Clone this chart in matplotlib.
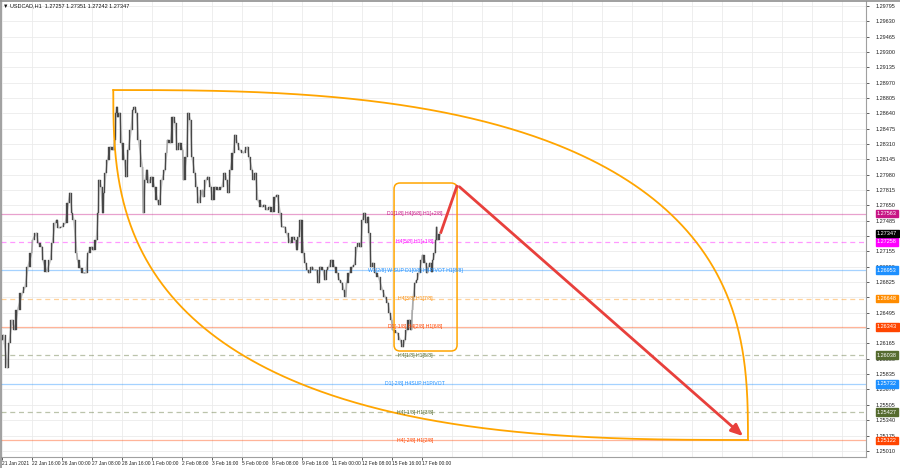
import numpy as np
import matplotlib
matplotlib.use("Agg")
import matplotlib.pyplot as plt
from matplotlib.patches import FancyBboxPatch
import matplotlib.transforms as mtransforms

FONT = ['Liberation Sans Narrow', 'Liberation Sans', 'DejaVu Sans']
plt.rcParams['font.family'] = FONT

# H1 closes (bar index, price)
path = [(0, 1.26202), (2, 1.26256), (6, 1.25901), (8, 1.26170), (11, 1.26418), (14, 1.26310),
        (17, 1.26525), (22, 1.26708), (25, 1.26773), (28, 1.26988), (32, 1.27138), (33, 1.27278),
        (37, 1.27353), (39, 1.27246), (43, 1.27203), (44, 1.27063), (48, 1.26934), (52, 1.27063),
        (54, 1.27246), (57, 1.27461), (59, 1.27493), (61, 1.27407), (64, 1.27418), (68, 1.27461),
        (71, 1.27676), (73, 1.27784), (75, 1.27568), (77, 1.27493), (80, 1.27138), (81, 1.27063),
        (84, 1.26977), (87, 1.26923), (90, 1.26923), (92, 1.27138), (96, 1.27203), (98, 1.27170),
        (101, 1.27278), (103, 1.27568), (104, 1.27923), (106, 1.27848), (108, 1.27568), (109, 1.27784),
        (111, 1.27999), (113, 1.28139), (116, 1.28278), (119, 1.28246), (121, 1.28354), (122, 1.28644),
        (123, 1.28709), (124, 1.28601), (126, 1.28644), (128, 1.28321), (131, 1.28139), (133, 1.27956),
        (135, 1.28246), (138, 1.28461), (140, 1.28676), (142, 1.28709), (144, 1.28644), (146, 1.28354),
        (150, 1.28063), (151, 1.27568), (153, 1.27923), (155, 1.28031), (157, 1.27891), (160, 1.27956),
        (163, 1.27848), (166, 1.27708), (168, 1.27655), (171, 1.27923), (174, 1.28031), (176, 1.28214),
        (177, 1.28354), (180, 1.28321), (183, 1.28601), (185, 1.28537), (187, 1.28246), (190, 1.28321),
        (193, 1.28246), (194, 1.27923), (197, 1.28171), (199, 1.28644), (201, 1.28569), (203, 1.28171),
        (206, 1.27999), (208, 1.27848), (210, 1.27676), (214, 1.27816), (215, 1.27741), (218, 1.27923),
        (220, 1.27956), (223, 1.27848), (225, 1.27708), (228, 1.27848), (231, 1.27816), (235, 1.27848),
        (238, 1.27999), (240, 1.27923), (242, 1.27784), (244, 1.28031), (247, 1.28214), (249, 1.28408),
        (251, 1.28321), (254, 1.28246), (258, 1.28214), (262, 1.28278), (264, 1.28171), (267, 1.28031),
        (269, 1.27923), (271, 1.27999), (273, 1.27708), (278, 1.27633), (280, 1.27655), (283, 1.27601),
        (286, 1.27633), (289, 1.27580), (292, 1.27741), (294, 1.27762), (297, 1.27568), (299, 1.27418),
        (302, 1.27418), (304, 1.27353), (308, 1.27246), (311, 1.27310), (313, 1.27278), (315, 1.27170),
        (317, 1.27310), (319, 1.27493), (322, 1.27138), (324, 1.27031), (326, 1.26956), (328, 1.26923),
        (331, 1.26988), (333, 1.26956), (336, 1.26956), (338, 1.26816), (340, 1.26988), (343, 1.26956),
        (345, 1.26848), (347, 1.26956), (349, 1.26988), (352, 1.27063), (355, 1.26988), (358, 1.26923),
        (360, 1.26848), (363, 1.26816), (365, 1.26741), (367, 1.26665), (368, 1.26816), (371, 1.26923),
        (374, 1.26988), (376, 1.27010), (379, 1.27203), (381, 1.27246), (383, 1.27203), (385, 1.27493),
        (387, 1.27568), (389, 1.27461), (391, 1.27525), (392, 1.27353), (394, 1.26988), (396, 1.27031),
        (399, 1.26923), (402, 1.26880), (406, 1.26741), (409, 1.26665), (412, 1.26601), (414, 1.26493),
        (416, 1.26418), (417, 1.26310), (422, 1.26278), (425, 1.26202), (428, 1.26128), (430, 1.26202),
        (432, 1.26310), (435, 1.26418), (437, 1.26310), (438, 1.26525), (439, 1.26665), (441, 1.26816),
        (443, 1.26848), (445, 1.26923), (448, 1.27063), (449, 1.27117), (452, 1.27031), (454, 1.26923),
        (455, 1.26988), (457, 1.27031), (459, 1.26934), (460, 1.27063), (462, 1.27138), (463, 1.27278),
        (464, 1.27418), (465, 1.27278), (468, 1.27347)]
bars = np.array([p[0] for p in path], dtype=float)
closes = np.array([p[1] for p in path])

title = "\u25bc USDCAD,H1  1.27257 1.27351 1.27242 1.27347"

# Murrey levels
levels = [1.27563, 1.27258, 1.26953, 1.26648, 1.26343, 1.26038, 1.25732, 1.25427, 1.25122]
level_text = ["D1[1/8] H4[6/8] H1[+2/8]", "H4[5/8] H1[+1/8]",
              "W1[2/8] W SUP D1[0/8] H4PIVOT H1[8/8]", "H4[3/8] H1[7/8]",
              "D1[-1/8] H4[2/8] H1[6/8]", "H4[1/8] H1[5/8]", "D1[-2/8] H4SUP H1PIVOT",
              "H4[-1/8] H1[3/8]", "H4[-2/8] H1[2/8]"]
level_color = ['#c71585', '#ff00ff', '#1e90ff', '#ff8c00', '#ff4500',
               '#556b2f', '#1e90ff', '#556b2f', '#ff4500']
level_dashed = [False, True, False, True, False, True, False, True, False]
last_price = 1.27347

price_ticks = [round(1.29795 - 0.00165 * k, 5) for k in range(30)]
date_labels = ["21 Jan 2021", "22 Jan 16:00", "26 Jan 00:00", "27 Jan 08:00", "28 Jan 16:00",
               "1 Feb 00:00", "2 Feb 08:00", "3 Feb 16:00", "5 Feb 00:00", "8 Feb 08:00",
               "9 Feb 16:00", "11 Feb 00:00", "12 Feb 08:00", "15 Feb 16:00", "17 Feb 00:00"]
date_step = 32

# drawn objects (bar, price)
box = (418.5, 485.7, 1.26084, 1.27891)
arrow_pts = [(468, 1.27347), (486, 1.27870), (793, 1.25149)]
arc_a = (119, 1.28891)
arc_b = (796, 1.25127)
arc_n = 2.75

fig = plt.figure(figsize=(9, 4.68), dpi=100)
ax = fig.add_axes([1 / 900, 11 / 468, 865 / 900, 456 / 468])
ax.set_xlim(-0.75, 921.9)
ax.set_ylim(1.249439, 1.298487)

# grid
for k in range(0, 30):
    ax.axvline(k * date_step, color='#ebebeb', lw=0.6, zorder=0)
for p in price_ticks:
    ax.axhline(p, color='#ebebeb', lw=0.6, zorder=0)

# level lines
for lv, c, d in zip(levels, level_color, level_dashed):
    ax.axhline(lv, color=c, lw=0.9, alpha=0.4, ls=(0, (4, 3)) if d else '-', zorder=1)

# price series as thin candles
ax.plot(bars, closes, color='#a8a8a8', lw=1.2, alpha=0.7, zorder=2)
opens = closes[:-1]
cl = closes[1:]
x0 = bars[:-1]
w = np.diff(bars)
lo = np.minimum(opens, cl)
hi = np.maximum(opens, cl)
ax.bar(x0 + w / 2, np.maximum(hi - lo, 0.00003), bottom=lo, width=np.minimum(w * 0.55, 1.6),
       color='#474747', edgecolor='#474747', lw=0.25, zorder=3)

# level captions
for lv, t, c in zip(levels, level_text, level_color):
    ax.text(441, lv, t, color=c, fontsize=3.7, ha='center', va='center', zorder=5)

# rounded box
px_x = (921.9 + 0.75) / 865
px_y = (1.298487 - 1.249439) / 456
rect = FancyBboxPatch((box[0], box[2]), box[1] - box[0], box[3] - box[2],
                      boxstyle="round,pad=0,rounding_size=%f" % (6 * px_x),
                      mutation_aspect=px_y / px_x, fill=False,
                      ec='#ffa500', lw=1.1, zorder=4)
ax.add_patch(rect)

# orange arcs
t = np.linspace(0, np.pi / 2, 300)
sx = np.sin(t) ** (2 / arc_n)
cx = np.cos(t) ** (2 / arc_n)
db = arc_b[0] - arc_a[0]
dp = arc_a[1] - arc_b[1]
ax.plot(arc_a[0] + db * sx, arc_b[1] + dp * cx, color='#ffa500', lw=1.3, zorder=4)
ax.plot(arc_b[0] - db * cx, arc_a[1] - dp * sx, color='#ffa500', lw=1.3, zorder=4)

# red arrow
ax.plot([arrow_pts[0][0], arrow_pts[1][0]], [arrow_pts[0][1], arrow_pts[1][1]],
        color='#e8403c', lw=2.0, zorder=6, solid_capstyle='butt')
ax.annotate('', xy=arrow_pts[2], xytext=arrow_pts[1],
            arrowprops=dict(arrowstyle='-|>,head_length=0.7,head_width=0.3',
                            color='#e8403c', lw=2.0), zorder=6)

# axes look
for s in ['top', 'left']:
    ax.spines[s].set_visible(False)
ax.spines['right'].set_color('#a0a0a0')
ax.spines['bottom'].set_color('#a0a0a0')
ax.yaxis.tick_right()
tags = list(zip(levels, level_color)) + [(last_price, '#000000')]
ax.set_yticks(price_ticks)
shown = []
for p in price_ticks:
    near = min(abs(p - lv) for lv, _ in tags)
    shown.append('%.5f' % p if near > 0.00036 else '')
ax.set_yticklabels(shown)
ax.tick_params(axis='y', length=2, width=0.5, pad=5, labelsize=4.0, colors='#202020')
ax.set_xticks([k * date_step for k in range(len(date_labels))])
ax.set_xticklabels(date_labels)
ax.tick_params(axis='x', length=2, width=0.5, pad=1, labelsize=3.5, colors='#202020')
for lab in ax.get_xticklabels():
    lab.set_ha('left')

# price tags on the scale
trans = mtransforms.blended_transform_factory(ax.transAxes, ax.transData)
for lv, c in tags:
    ax.text((877 - 1) / 865, lv, '%.5f' % lv, transform=trans, fontsize=4.0, color='white',
            ha='left', va='center', clip_on=False, zorder=10,
            bbox=dict(boxstyle='square,pad=0.25', fc=c, ec=c))

# frame and title
fig.add_artist(plt.Line2D([0.5 / 900, 0.5 / 900], [0, 1], color='#909090', lw=1.2))
fig.add_artist(plt.Line2D([0, 1], [1 - 0.5 / 468, 1 - 0.5 / 468], color='#909090', lw=1.2))
fig.text(3 / 900, 1 - 6 / 468, title, fontsize=4.0, va='center', ha='left',
         family=FONT, color='#101010')

fig.savefig('out.png', dpi=100)
